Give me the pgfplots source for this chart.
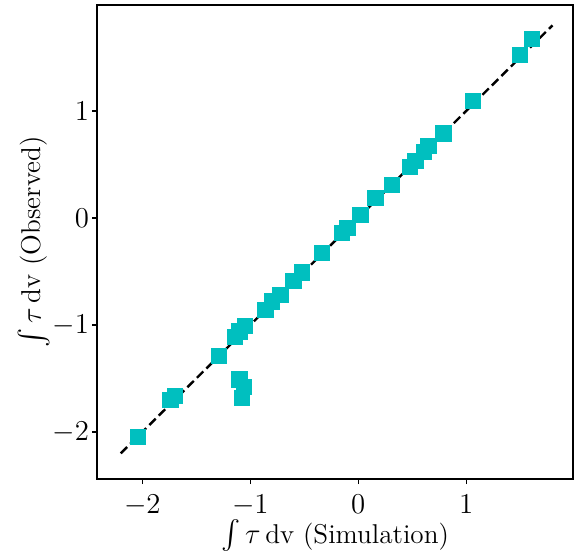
\documentclass[border=0pt]{standalone}
\usepackage{exscale}
\usepackage{pgfplots}
\pgfplotsset{compat=1.18}
\definecolor{cyanc}{rgb}{0,0.75,0.75}
\begin{document}
\begin{tikzpicture}
\begin{axis}[
    name=main,
    scale only axis,
    width=238pt, height=237pt,
    xmin=-2.42, xmax=1.99,
    ymin=-2.44, ymax=1.99,
    xtick={-2,-1,0,1}, ytick={-2,-1,0,1},
    tick align=outside,
    xtick pos=bottom, ytick pos=left,
    major tick length=2.5pt,
    every tick/.style={black, line width=0.6pt},
    axis line style={line width=0.9pt},
    ticklabel style={font=\fontsize{13.6}{16}\selectfont},
    xticklabel style={yshift=-2pt},
    yticklabel style={xshift=2pt},
    label style={font=\fontsize{13.6}{16}\selectfont},
    xlabel={$\int\tau\,$dv (Simulation)},
    ylabel={$\int\tau\,$dv (Observed)},
    xlabel style={at={(axis description cs:0.5,-0.12)}, anchor=center},
    ylabel style={at={(axis description cs:-0.133,0.5)}, anchor=center},
    clip=false,
]
\addplot[only marks, mark=square*, mark size=3.8pt, color=cyanc]
coordinates {
(-2.04,-2.05) (-1.74,-1.70) (-1.70,-1.66) (-1.29,-1.29)
(-1.14,-1.11) (-1.10,-1.06) (-1.05,-1.01)
(-1.10,-1.51) (-1.06,-1.58) (-1.08,-1.68)
(-0.86,-0.86) (-0.80,-0.78) (-0.72,-0.72) (-0.60,-0.59)
(-0.52,-0.51) (-0.34,-0.33) (-0.15,-0.14) (-0.10,-0.09)
(0.02,0.03) (0.16,0.19) (0.31,0.31) (0.48,0.48) (0.53,0.53)
(0.61,0.62) (0.65,0.67) (0.79,0.79) (1.06,1.09)
(1.50,1.52) (1.61,1.67)
};
\addplot[black, line width=1.2pt, dash pattern=on 4.5pt off 2.2pt]
coordinates {(-2.2,-2.2) (1.8,1.8)};
\end{axis}
\path (main.north east) ++(2.5pt,2.5pt);
\path (main.south west) ++(-48.5pt,-37.5pt);
\end{tikzpicture}
\end{document}
